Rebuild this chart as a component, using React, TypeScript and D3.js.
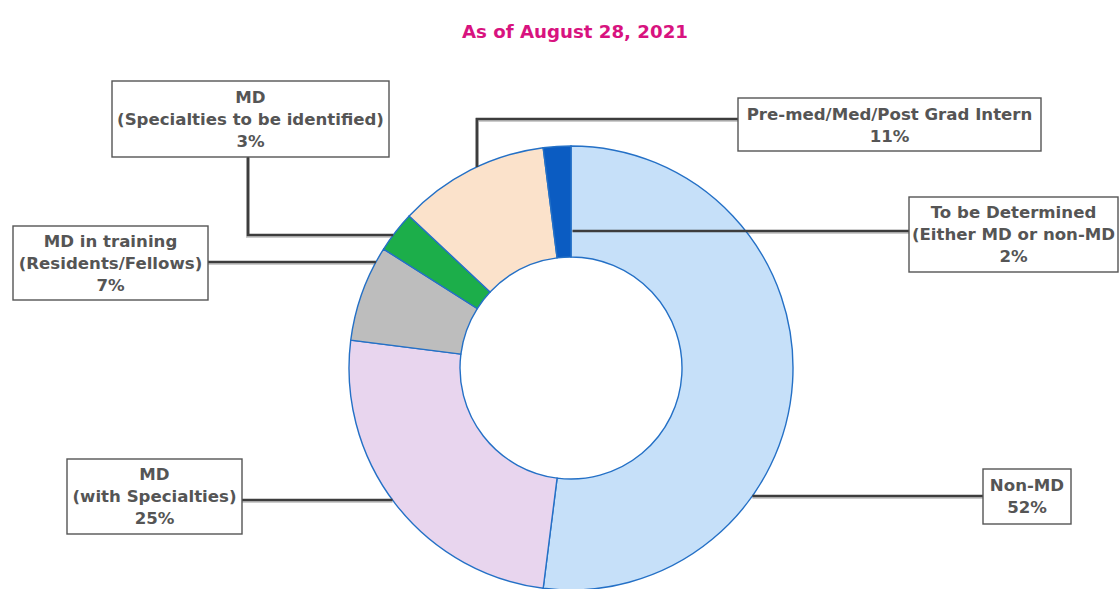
import React from "react";
import * as d3 from "d3";

const categories = [
  "Non-MD",
  "MD (with Specialties)",
  "MD in training",
  "MD (Specialties to be identified)",
  "Pre-med/Med/Post Grad Intern",
  "To be Determined",
];
const values = [52, 25, 7, 3, 11, 2];
const sliceColors = ["#c6e0f9", "#e8d5ee", "#bdbdbd", "#1cae4a", "#fbe2cb", "#0b5cc2"];
const labelLines = [
  ["Non-MD", "52%"],
  ["MD", "(with Specialties)", "25%"],
  ["MD in training", "(Residents/Fellows)", "7%"],
  ["MD", "(Specialties to be identified)", "3%"],
  ["Pre-med/Med/Post Grad Intern", "11%"],
  ["To be Determined", "(Either MD or non-MD", "2%"],
];
const title = "As of August 28, 2021";

const W = 1120;
const H = 589;
const cx = 571;
const cy = 368;
const R = 222;
const r0 = 111;

// label box layout (x, y, w, h) and connector routing
type Box = { x: number; y: number; w: number; h: number; text0: number; conn: string; ly?: number; lx?: number };
const boxes: Box[] = [
  { x: 983, y: 469, w: 88, h: 55, text0: 485, conn: "right", ly: 496 },
  { x: 67, y: 459, w: 175, h: 75, text0: 474, conn: "left", ly: 500 },
  { x: 13, y: 226, w: 195, h: 74, text0: 241, conn: "left", ly: 262 },
  { x: 112, y: 81, w: 277, h: 76, text0: 97, conn: "elbowDown", ly: 235, lx: 248 },
  { x: 738, y: 98, w: 303, h: 53, text0: 114, conn: "elbowLeft", ly: 119, lx: 477 },
  { x: 909, y: 197, w: 209, h: 75, text0: 212, conn: "inner", ly: 231 },
];

export default function App() {
  const pie = d3.pie<number>().sort(null).startAngle(0).endAngle(2 * Math.PI);
  const arcs = pie(values);
  const arc = d3.arc<d3.PieArcDatum<number>>().innerRadius(r0).outerRadius(R);
  const lineH = 22;
  const edgeX = (y: number, side: number) => cx + side * Math.sqrt(R * R - (y - cy) * (y - cy));
  const edgeY = (x: number) => cy - Math.sqrt(R * R - (x - cx) * (x - cx));

  const connectors = boxes.map((b, i) => {
    const ly = b.ly as number;
    let pts: [number, number][] = [];
    if (b.conn === "right") pts = [[edgeX(ly, 1), ly], [b.x, ly]];
    else if (b.conn === "left") pts = [[b.x + b.w, ly], [edgeX(ly, -1), ly]];
    else if (b.conn === "elbowDown") pts = [[b.lx as number, b.y + b.h], [b.lx as number, ly], [edgeX(ly, -1), ly]];
    else if (b.conn === "elbowLeft") pts = [[b.x, ly], [b.lx as number, ly], [b.lx as number, edgeY(b.lx as number)]];
    else if (b.conn === "inner") pts = [[b.x, ly], [cx + 1.5, ly]];
    return { i, d: d3.line()(pts) as string };
  });

  return (
    <div style={{ position: "fixed", left: 0, top: 0, width: W, height: H, background: "#fff" }}>
      <svg width={W} height={H} style={{ display: "block" }}>
        <rect width={W} height={H} fill="#fff" />
        <text
          x={575}
          y={32}
          dy="0.35em"
          textAnchor="middle"
          fontFamily="'DejaVu Sans', sans-serif"
          fontWeight={700}
          fontSize={18.2}
          fill="#d8137f"
        >
          {title}
        </text>
        <g>
          {connectors.map((c) => (
            <path key={"s" + c.i} d={c.d} fill="none" stroke="#9a9a9a" strokeWidth={4} opacity={0.5} transform="translate(0,1)" />
          ))}
        </g>
        <g transform={`translate(${cx},${cy})`}>
          {arcs.map((a, i) => (
            <path key={i} d={arc(a) as string} fill={sliceColors[i]} stroke="#2470c6" strokeWidth={1.4} />
          ))}
        </g>
        <g>
          {connectors.map((c) => (
            <path key={"c" + c.i} d={c.d} fill="none" stroke="#3d3d3d" strokeWidth={2.6} />
          ))}
        </g>
        {boxes.map((b, i) => (
          <g key={"b" + i}>
            <rect x={b.x} y={b.y} width={b.w} height={b.h} fill="#fff" stroke="#555" strokeWidth={1.4} />
            {labelLines[i].map((t, j) => (
              <text
                key={j}
                x={b.x + b.w / 2}
                y={b.text0 + j * lineH}
                dy="0.35em"
                textAnchor="middle"
                fontFamily="'DejaVu Sans', sans-serif"
                fontWeight={700}
                fontSize={16.6}
                fill="#555"
              >
                {t}
              </text>
            ))}
          </g>
        ))}
      </svg>
    </div>
  );
}
